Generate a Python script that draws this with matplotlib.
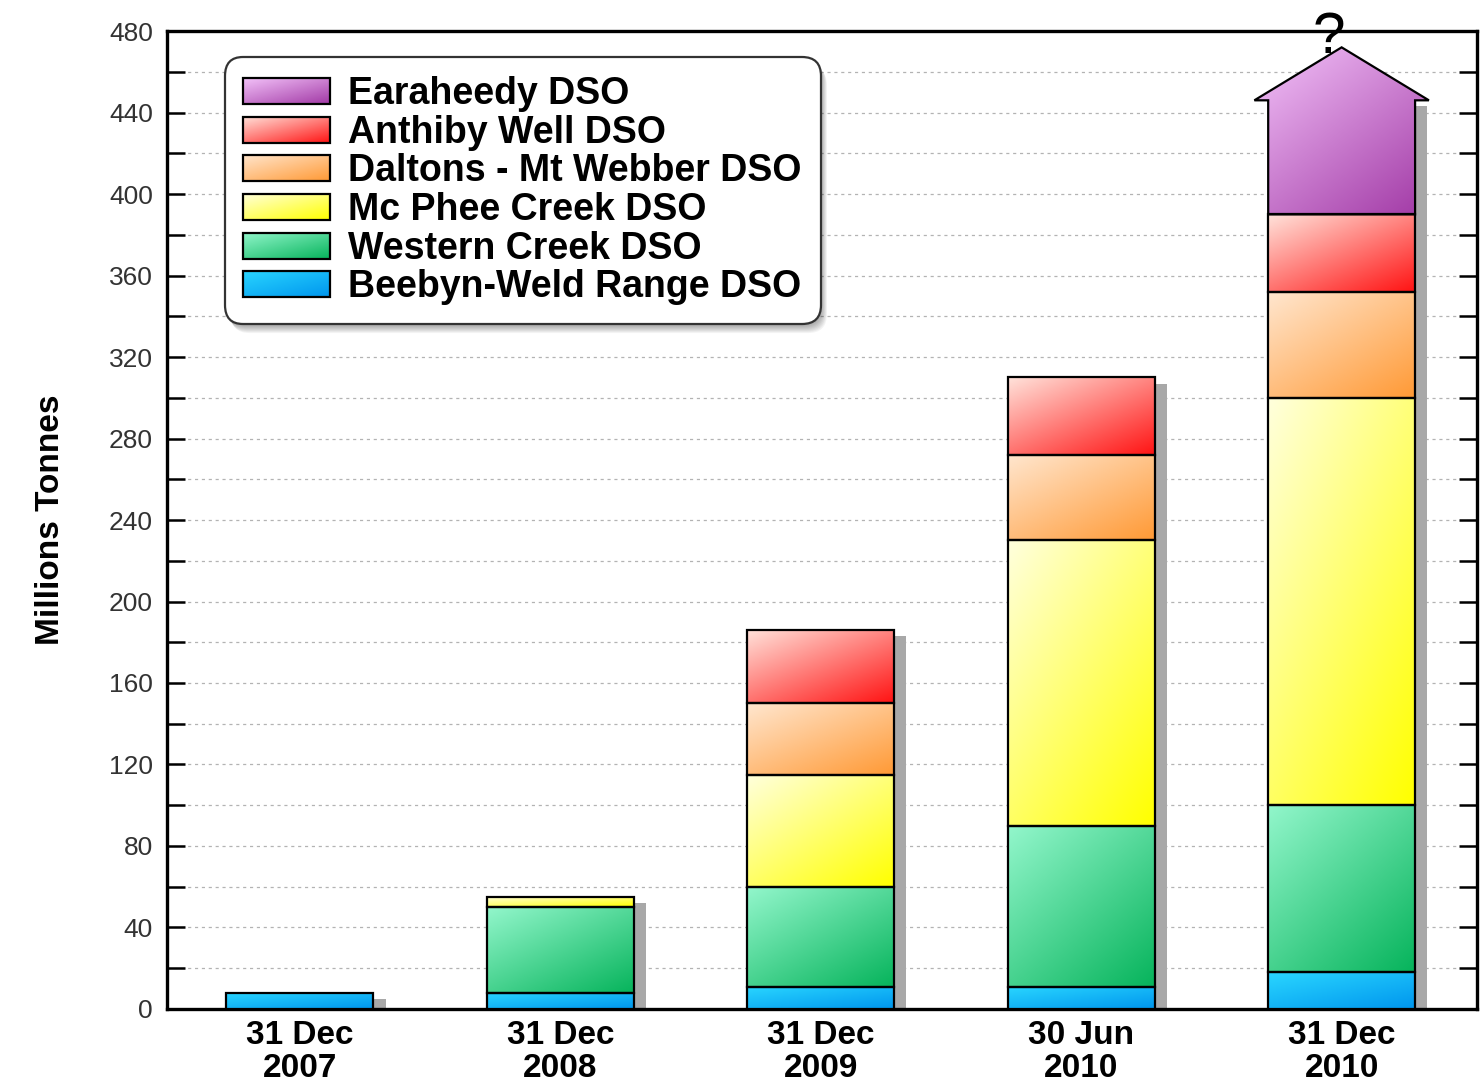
import numpy as np
import matplotlib
matplotlib.use("Agg")
import matplotlib.pyplot as plt
from matplotlib.colors import LinearSegmentedColormap
from matplotlib.patches import Patch, Polygon, Rectangle, FancyBboxPatch
from matplotlib.legend_handler import HandlerBase
from matplotlib.image import BboxImage
from matplotlib.transforms import Bbox, TransformedBbox, IdentityTransform

# reporting dates and resource per deposit (Mt, stacked bottom to top)
dates = ["31 Dec\n2007", "31 Dec\n2008", "31 Dec\n2009", "30 Jun\n2010", "31 Dec\n2010"]
beebyn = [8, 8, 11, 11, 18]
western = [0, 42, 49, 79, 82]
mcphee = [0, 5, 55, 140, 200]
daltons = [0, 0, 35, 42, 52]
anthiby = [0, 0, 36, 38, 38]
earaheedy = [0, 0, 0, 0, 56]

names = ["Beebyn-Weld Range DSO", "Western Creek DSO", "Mc Phee Creek DSO",
         "Daltons - Mt Webber DSO", "Anthiby Well DSO", "Earaheedy DSO"]
series = [beebyn, western, mcphee, daltons, anthiby, earaheedy]
colours = [("#2ad6ff", "#0096ee"), ("#92f6cb", "#07b45c"), ("#ffffdc", "#ffff00"),
           ("#ffe6ce", "#ff9a36"), ("#ffe2da", "#ff1414"), ("#f4c4fa", "#a23aa6")]

yticks = list(range(0, 481, 40))

W = 0.564          # bar width
SH_DX, SH_DY = 0.047, 3.0   # drop shadow offset (x units, Mt)
HEAD_W, HEAD_H = 0.053, 26.0  # arrow head overhang / height

FONT = "Liberation Sans"
LEG_SIZE = 27

n = 64
gi, gj = np.mgrid[0:n, 0:n] / (n - 1)
GRAD = 0.45 * gj + 0.55 * gi   # light top-left -> dark bottom-right


def cmap_for(c):
    return LinearSegmentedColormap.from_list("g", list(c))


def gradient_fill(ax, clip, extent, cmap):
    im = ax.imshow(GRAD, cmap=cmap, extent=extent, aspect="auto", origin="upper",
                   interpolation="bilinear", zorder=3, vmin=0, vmax=1)
    im.set_clip_path(clip)
    return im


class GradientHandler(HandlerBase):
    def __init__(self, cmap):
        super().__init__()
        self.cmap = cmap

    def create_artists(self, legend, orig_handle, xdescent, ydescent, width, height,
                       fontsize, trans):
        bb = TransformedBbox(Bbox.from_bounds(-xdescent, -ydescent, width, height), trans)
        img = BboxImage(bb, cmap=self.cmap, interpolation="bilinear")
        img.set_data(GRAD)
        img.set_clim(0, 1)
        edge = Rectangle((-xdescent, -ydescent), width, height, facecolor="none",
                         edgecolor="black", lw=1.6, transform=trans)
        return [img, edge]


plt.rcParams["font.family"] = FONT
fig = plt.figure(figsize=(14.83, 10.82), dpi=100)
ax = fig.add_axes([0.1126, 0.0675, 0.8834, 0.9038])

x = np.arange(len(dates))
totals = np.sum(series, axis=0)

# drop shadows behind each stack
ax.bar(x + SH_DX, totals - SH_DY, W, color="#a8a8a8", lw=0, zorder=2)

bottom = np.zeros(len(dates))
for name, vals, col in zip(names, series, colours):
    vals = np.asarray(vals, dtype=float)
    cm = cmap_for(col)
    if name.startswith("Earaheedy"):
        for i in np.nonzero(vals)[0]:
            x0, x1 = x[i] - W / 2, x[i] + W / 2
            y0, y1 = bottom[i], bottom[i] + vals[i]
            pts = [(x0, y0), (x0, y1), (x0 - HEAD_W, y1), (x[i], y1 + HEAD_H),
                   (x1 + HEAD_W, y1), (x1, y1), (x1, y0)]
            arrow = Polygon(pts, closed=True, facecolor="none", edgecolor="black",
                            lw=1.6, zorder=4, joinstyle="miter")
            ax.add_patch(arrow)
            gradient_fill(ax, arrow, (x0 - HEAD_W, x1 + HEAD_W, y0, y1 + HEAD_H), cm)
    else:
        bars = ax.bar(x, vals, W, bottom=bottom, facecolor="none", edgecolor="black",
                      lw=1.6, zorder=4)
        for rect, v in zip(bars, vals):
            if v <= 0:
                rect.set_visible(False)
                continue
            rx, ry = rect.get_x(), rect.get_y()
            gradient_fill(ax, rect, (rx, rx + rect.get_width(), ry, ry + v), cm)
    bottom += vals

ax.text(3.95, 469, "?", ha="center", va="baseline", fontsize=42, clip_on=False,
        zorder=6)

ax.set_xlim(-0.51, 4.52)
ax.set_ylim(0, 480)
ax.set_xticks(x)
ax.set_xticklabels(dates, fontsize=24, fontweight="bold")
for lab in ax.get_xticklabels():
    lab.set_linespacing(1.07)
ax.tick_params(axis="x", length=0, pad=8)
ax.set_yticks(yticks)
ax.set_yticks(range(20, 480, 40), minor=True)
ax.tick_params(axis="y", which="both", direction="in", length=13, width=1.8,
               right=True, labelsize=19, labelcolor="#333333", pad=10)
ax.grid(axis="y", which="both", ls=(0, (2.5, 3)), color="#b3b3b3", lw=0.9)
ax.set_axisbelow(True)
for sp in ax.spines.values():
    sp.set_linewidth(2.4)

ax.set_ylabel("Millions Tonnes", fontsize=24, fontweight="bold")
ax.yaxis.set_label_coords(-0.077, 0.5)

handles = [Patch(label=nm) for nm in names[::-1]]
hmap = {h: GradientHandler(cmap_for(c)) for h, c in zip(handles, colours[::-1])}
leg = ax.legend(handles=handles, handler_map=hmap, loc="upper left",
                bbox_to_anchor=(0.044, 0.973), borderaxespad=0,
                prop=dict(family=FONT, weight="bold", size=LEG_SIZE),
                handlelength=2.3, handleheight=0.69, handletextpad=0.5,
                labelspacing=0.07, borderpad=0.5, fancybox=True,
                framealpha=1, edgecolor="#333333")
leg.get_frame().set_linewidth(1.6)
leg.get_frame().set_boxstyle("round", pad=0, rounding_size=0.5)

# soft shadow under the legend box
fig.canvas.draw()
bb = leg.get_frame().get_window_extent()
rs = 0.5 * LEG_SIZE * fig.dpi / 72
for k in range(1, 10):
    sh = FancyBboxPatch((bb.x0 + 0.7 * k, bb.y0 - k), bb.width, bb.height,
                        boxstyle=f"round,pad=0,rounding_size={rs}",
                        transform=IdentityTransform(), facecolor="black",
                        edgecolor="none", alpha=0.045, zorder=4.9)
    ax.add_artist(sh)

fig.savefig("out.png", dpi=100)
